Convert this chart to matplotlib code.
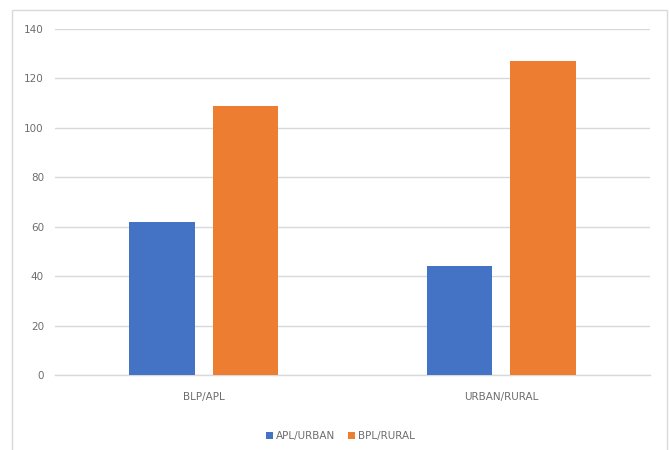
import matplotlib
matplotlib.use("Agg")
import matplotlib.pyplot as plt
import numpy as np
from matplotlib.patches import Rectangle

# data
categories = ["BLP/APL", "URBAN/RURAL"]
apl_urban = [62, 44]
bpl_rural = [109, 127]
series_names = ["APL/URBAN", "BPL/RURAL"]

blue = "#4472C4"
orange = "#ED7D31"
grey_text = "#6E6E6E"

fig = plt.figure(figsize=(6.69, 4.5), dpi=100)

# light outer frame like the original chart box
fig.patches.append(Rectangle((12 / 669, -0.01), 655 / 669, 1 - 10 / 450 + 0.01,
                             transform=fig.transFigure, fill=False,
                             edgecolor="#D9D9D9", linewidth=1.0))

ax = fig.add_axes([55 / 669, 75 / 450, 595 / 669, 346 / 450])

x = np.arange(len(categories))
width = 0.22
gap = 0.06
ax.bar(x - (width + gap) / 2, apl_urban, width, color=blue, label=series_names[0], zorder=3)
ax.bar(x + (width + gap) / 2, bpl_rural, width, color=orange, label=series_names[1], zorder=3)

ax.set_xlim(-0.5, 1.5)
ax.set_ylim(0, 140)
ax.set_yticks(range(0, 141, 20))
ax.set_xticks(x)
ax.set_xticklabels(categories)

ax.grid(axis="y", color="#D9D9D9", linewidth=1.0, zorder=0)
ax.axhline(0, color="#D9D9D9", linewidth=1.0, zorder=1, clip_on=False)
for s in ax.spines.values():
    s.set_visible(False)
ax.tick_params(axis="both", length=0, labelsize=7.5, colors=grey_text)
ax.tick_params(axis="y", pad=8)
ax.tick_params(axis="x", pad=12)

ax.legend(loc="upper center", bbox_to_anchor=(0.48, -0.135), ncol=2, frameon=False,
          fontsize=7.5, handlelength=0.7, handleheight=0.7, handletextpad=0.3,
          columnspacing=1.2, labelcolor=grey_text)

fig.savefig("out.png", dpi=100)
